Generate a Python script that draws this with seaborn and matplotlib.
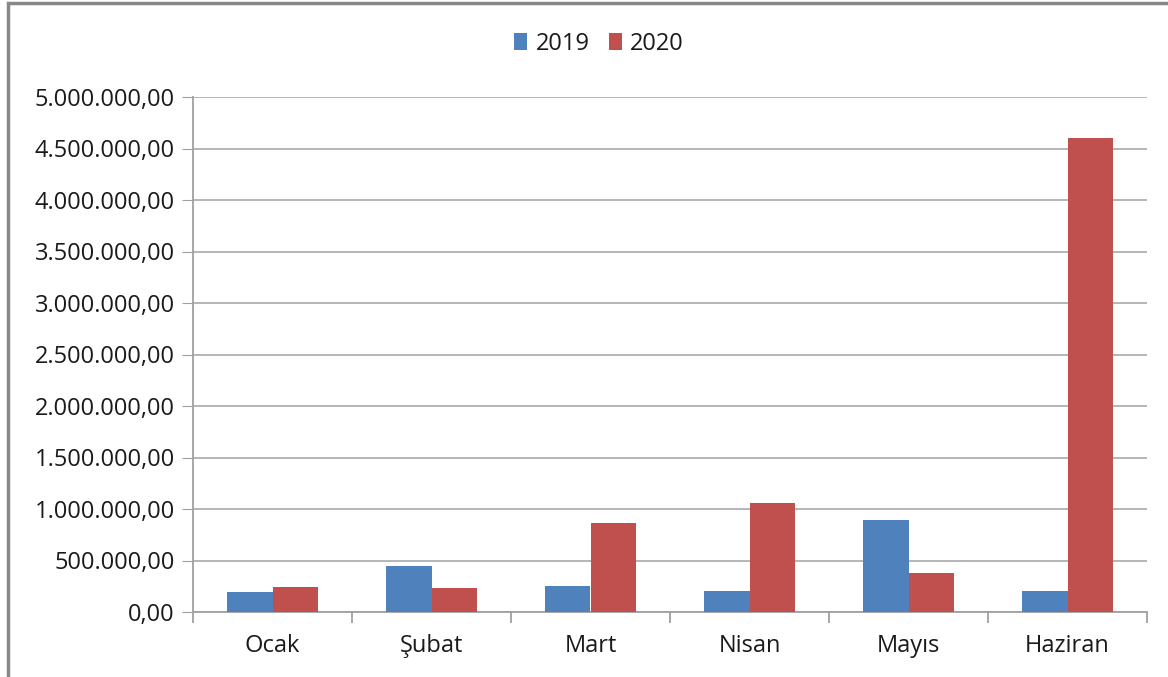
import pandas as pd
import seaborn as sns
import matplotlib.pyplot as plt
import matplotlib.ticker as mtick
from matplotlib.patches import Rectangle

# values
months = ["Ocak", "Şubat", "Mart", "Nisan", "Mayıs", "Haziran"]
values_2019 = [190000, 445000, 252000, 203000, 896000, 203000]
values_2020 = [239000, 229000, 867000, 1059000, 379000, 4604000]
years = ["2019", "2020"]

df = pd.DataFrame({
    "month": months * 2,
    "year": [years[0]] * len(months) + [years[1]] * len(months),
    "value": values_2019 + values_2020,
})

sns.set_style("white")
plt.rcParams["font.family"] = ["Open Sans", "DejaVu Sans"]

fig = plt.figure(figsize=(11.68, 6.77), dpi=100)
ax = fig.add_axes([193 / 1168, 1 - 612 / 677, (1147 - 193) / 1168, (612 - 97) / 677])

sns.barplot(data=df, x="month", y="value", hue="year", order=months,
            palette=["#4F81BD", "#C0504D"], width=0.575, saturation=1,
            errorbar=None, ax=ax, zorder=3, linewidth=0)

ax.set_ylim(0, 5000000)
ax.set_xlim(-0.5, 5.5)
ax.set_yticks(range(0, 5000001, 500000))

#Turkish number format: 1.000.000,00
ax.yaxis.set_major_formatter(mtick.FuncFormatter(
    lambda v, p: "{:,.2f}".format(v).replace(",", "X").replace(".", ",").replace("X", ".")))

ax.grid(axis="y", color="#b0b0b0", linewidth=1.3, zorder=0)
for s in ["top", "right"]:
    ax.spines[s].set_visible(False)
ax.spines["left"].set_color("#a0a0a0")
ax.spines["bottom"].set_color("#a0a0a0")
ax.spines["left"].set_linewidth(1.3)
ax.spines["bottom"].set_linewidth(1.3)

ax.tick_params(axis="y", which="major", left=True, length=8, color="#a0a0a0",
               labelsize=17, labelcolor="#1a1a1a", pad=5)
ax.tick_params(axis="x", which="major", bottom=False, labelsize=17,
               labelcolor="#1a1a1a", pad=12)
ax.set_xticks([i + 0.5 for i in range(-1, 6)], minor=True)
ax.tick_params(axis="x", which="minor", bottom=True, length=8, color="#a0a0a0", width=1.3)

ax.set_xlabel("")
ax.set_ylabel("")

ax.legend(loc="center", bbox_to_anchor=(599 / 1168, 1 - 44 / 677),
          bbox_transform=fig.transFigure, ncol=2, frameon=False,
          fontsize=17, handlelength=0.55, handleheight=0.7, handletextpad=0.35,
          columnspacing=0.8, labelcolor="#1a1a1a")

# outer chart frame
fig.patches.append(Rectangle((8 / 1168, -0.05), 1.2, 1 - 3 / 677 + 0.05,
                             transform=fig.transFigure, fill=False,
                             edgecolor="#888888", linewidth=2.5))

plt.savefig("out.png", dpi=100)
